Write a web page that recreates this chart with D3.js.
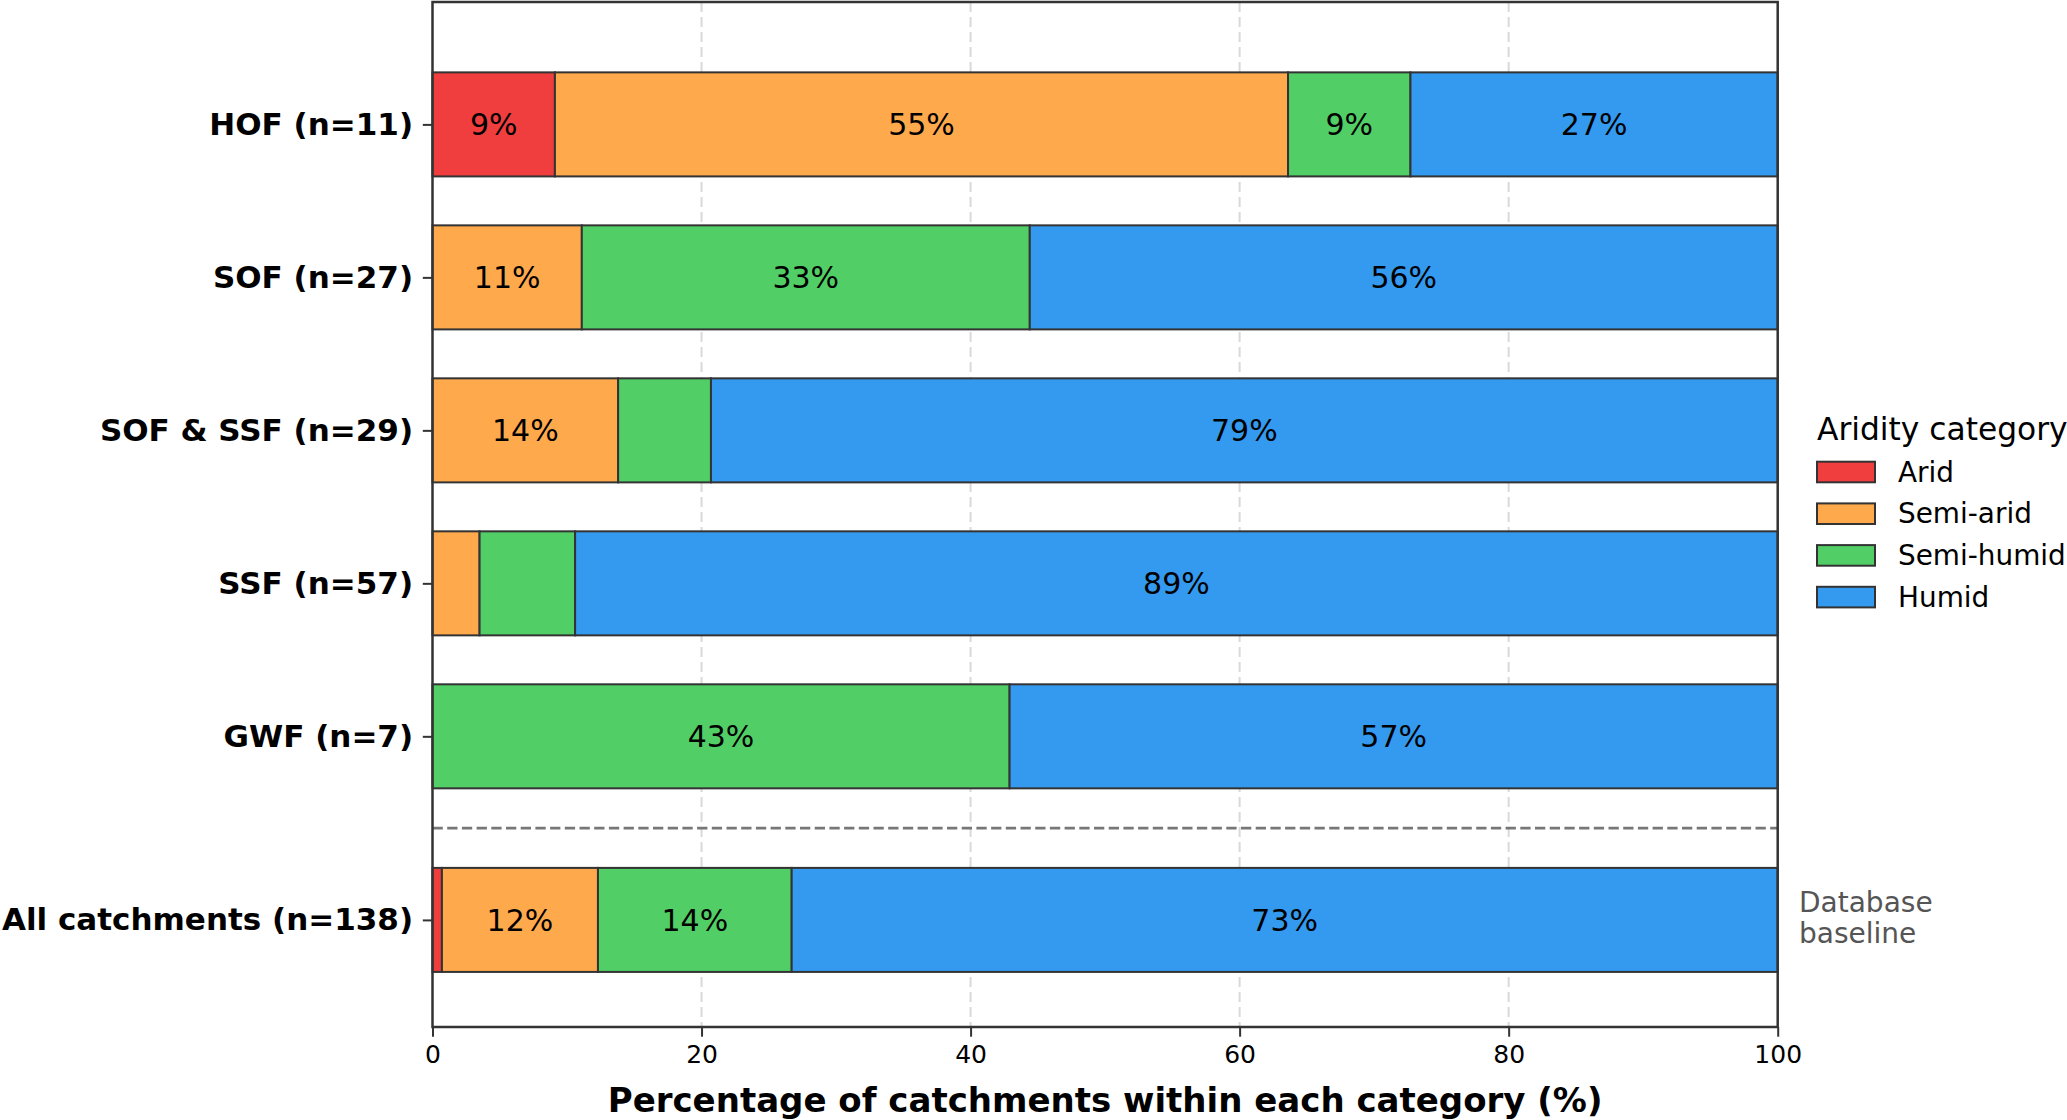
<!DOCTYPE html>
<html>
<head>
<meta charset="utf-8">
<script src="https://cdn.jsdelivr.net/npm/d3@7"></script>
<style>
  body { margin: 0; background: #fff; }
  text { font-family: "DejaVu Sans", sans-serif; }
</style>
</head>
<body>
<svg id="chart"></svg>
<script>
// Data (percent of catchments in each group)
const categories = ["HOF (n=11)", "SOF (n=27)", "SOF & SSF (n=29)", "SSF (n=57)", "GWF (n=7)", "All catchments (n=138)"];
const aridity = ["Arid", "Semi-arid", "Semi-humid", "Humid"];
const arid      = [9.1,  0,    0,    0,    0,    0.7];
const semiArid  = [54.5, 11.1, 13.8, 3.5,  0,    11.6];
const semiHumid = [9.1,  33.3, 6.9,  7.1,  42.9, 14.4];
const humid     = [27.3, 55.6, 79.3, 89.4, 57.1, 73.3];
const xTicks = [0, 20, 40, 60, 80, 100];

const colors = ["#f03e3e", "#ffa94d", "#51cf66", "#339af0"];

const W = 2067, H = 1120;
const plotL = 432.5, plotR = 1777.7, plotT = 2, plotB = 1027;
const baselineGap = 0.2;  // extra space before the "All catchments" row
const barH = 0.68;

// row position for each category (last row pushed down a bit)
const rowPos = categories.map((c, i) => i === categories.length - 1 ? i + baselineGap : i);

const rows = categories.map((c, i) => ({
  cat: c, pos: rowPos[i],
  "Arid": arid[i], "Semi-arid": semiArid[i], "Semi-humid": semiHumid[i], "Humid": humid[i]
}));

const svg = d3.select("#chart").attr("width", W).attr("height", H);

const x = d3.scaleLinear().domain([0, 100]).range([plotL, plotR]);
const y = d3.scaleLinear().domain([-0.8, 5.9]).range([plotT, plotB]);
const color = d3.scaleOrdinal().domain(aridity).range(colors);

// grid
svg.append("g").selectAll("line")
  .data(xTicks.slice(1, -1))
  .enter().append("line")
  .attr("x1", d => x(d)).attr("x2", d => x(d))
  .attr("y1", plotT).attr("y2", plotB)
  .attr("stroke", "#d9d9d9").attr("stroke-width", 2)
  .attr("stroke-dasharray", "10,5");

// separator between groups and the database baseline
const sepY = (rowPos[4] + rowPos[5]) / 2;
svg.append("line")
  .attr("x1", plotL).attr("x2", plotR)
  .attr("y1", y(sepY)).attr("y2", y(sepY))
  .attr("stroke", "#777").attr("stroke-width", 2.8)
  .attr("stroke-dasharray", "10.3,4.4");

// stacked bars
const stacked = d3.stack().keys(aridity)(rows);
const halfH = (y(barH) - y(0)) / 2;

const layers = svg.append("g").selectAll("g")
  .data(stacked)
  .enter().append("g")
  .attr("fill", d => color(d.key));

layers.selectAll("rect")
  .data(d => d.filter(s => s[1] - s[0] > 0))
  .enter().append("rect")
  .attr("x", d => x(d[0]))
  .attr("y", d => y(d.data.pos) - halfH)
  .attr("width", d => x(d[1]) - x(d[0]))
  .attr("height", halfH * 2)
  .attr("stroke", "#333")
  .attr("stroke-width", 2);

// percentage labels on the wider segments
layers.selectAll("text")
  .data(d => d.filter(s => s[1] - s[0] >= 8))
  .enter().append("text")
  .attr("x", d => x((d[0] + d[1]) / 2))
  .attr("y", d => y(d.data.pos))
  .attr("dy", "0.36em")
  .attr("text-anchor", "middle")
  .attr("fill", "#000")
  .style("font-size", "30px")
  .text(d => Math.round(d[1] - d[0]) + "%");

// frame
svg.append("rect")
  .attr("x", plotL).attr("y", plotT)
  .attr("width", plotR - plotL).attr("height", plotB - plotT)
  .attr("fill", "none").attr("stroke", "#333").attr("stroke-width", 2.5);

// x axis
const xAxis = svg.append("g")
  .attr("transform", "translate(0," + plotB + ")")
  .call(d3.axisBottom(x).tickValues(xTicks).tickSize(9.7).tickPadding(9));
xAxis.select(".domain").remove();
xAxis.selectAll("line").attr("stroke", "#333").attr("stroke-width", 2);
xAxis.selectAll("text").style("font-size", "25px").attr("fill", "#000")
  .style("font-family", "DejaVu Sans");

svg.append("text")
  .attr("x", (plotL + plotR) / 2)
  .attr("y", 1112)
  .attr("text-anchor", "middle")
  .style("font-size", "34px")
  .style("font-weight", "bold")
  .text("Percentage of catchments within each category (%)");

// y axis
const yAxis = svg.append("g")
  .attr("transform", "translate(" + plotL + ",0)")
  .call(d3.axisLeft(y).tickValues(rowPos).tickFormat((d, i) => categories[i]).tickSize(9.7).tickPadding(9.7));
yAxis.select(".domain").remove();
yAxis.selectAll("line").attr("stroke", "#333").attr("stroke-width", 2);
yAxis.selectAll("text").style("font-size", "31px").style("font-weight", "bold")
  .attr("fill", "#000").style("font-family", "DejaVu Sans");

// note next to the baseline row
const note = svg.append("text")
  .attr("x", 1799)
  .attr("fill", "#555")
  .style("font-size", "28px");
note.append("tspan").attr("x", 1799).attr("y", 912).text("Database");
note.append("tspan").attr("x", 1799).attr("y", 943).text("baseline");

// legend
const legend = svg.append("g");
legend.append("text")
  .attr("x", 1817).attr("y", 440)
  .style("font-size", "31.3px")
  .text("Aridity category");

const items = legend.selectAll("g.item")
  .data(aridity)
  .enter().append("g")
  .attr("class", "item")
  .attr("transform", (d, i) => "translate(1817," + (461.7 + i * 41.7) + ")");

items.append("rect")
  .attr("width", 58).attr("height", 20.6)
  .attr("fill", d => color(d))
  .attr("stroke", "#333").attr("stroke-width", 2);

items.append("text")
  .attr("x", 81).attr("y", 20)
  .style("font-size", "27.9px")
  .text(d => d);
</script>
</body>
</html>
